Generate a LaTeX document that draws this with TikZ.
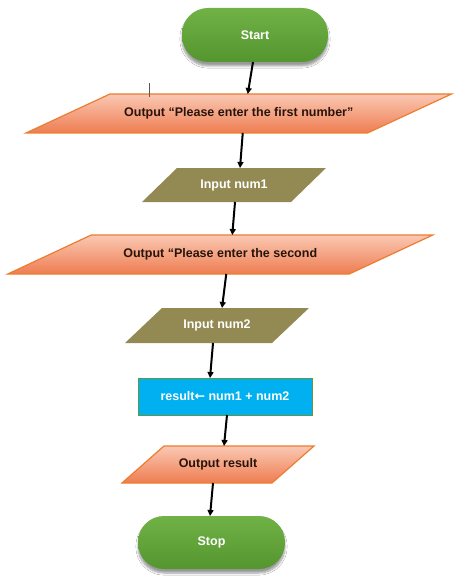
\documentclass[tikz,border=0pt]{standalone}
\usepackage{fontspec}
\setmainfont{Liberation Sans}
\newfontfamily\symfont{DejaVu Sans}
\usetikzlibrary{arrows.meta,shadows.blur}
\definecolor{grnA}{RGB}{112,178,70}
\definecolor{grnB}{RGB}{84,150,46}
\definecolor{orTop}{RGB}{250,200,180}
\definecolor{orBot}{RGB}{238,125,80}
\definecolor{orLine}{RGB}{237,125,49}
\definecolor{olive}{RGB}{147,137,83}
\definecolor{cyanbox}{RGB}{0,176,240}
\definecolor{cyanline}{RGB}{100,150,60}
\definecolor{darktxt}{RGB}{40,20,10}
\tikzset{
  x=1pt,y=-1pt,
  txt/.style={font=\fontsize{12.5}{14}\selectfont\bfseries, inner sep=0pt, outer sep=0pt},
  term/.style={txt, text=white, rounded corners=26pt, top color=grnA, bottom color=grnB, draw=none,
     blur shadow={shadow xshift=0pt, shadow yshift=-4pt, shadow blur steps=6, shadow opacity=40}},
  pbox/.style={txt, minimum width=#1},
  outfill/.style={top color=orTop, bottom color=orBot, draw=orLine, line width=1.2pt},
  infill/.style={fill=olive},
  procbox/.style={txt, text=white, fill=cyanbox, draw=cyanline, line width=0.8pt},
  flow/.style={line width=2pt, -{Triangle[length=6pt,width=6pt]}},
}
% parallelogram: centre (#1,#2), edge length #3, height #4, skew #5, style #6
\newcommand{\parashape}[6]{%
  \path[#6] ({#1-#3/2+#5/2},{#2-#4/2}) -- ({#1+#3/2+#5/2},{#2-#4/2})
     -- ({#1+#3/2-#5/2},{#2+#4/2}) -- ({#1-#3/2-#5/2},{#2+#4/2}) -- cycle;}
\begin{document}
\begin{tikzpicture}
\useasboundingbox (0,0) rectangle (474,580);
\fill[white] (0,0) rectangle (474,580);

\parashape{238.75}{113.5}{341.5}{39}{84}{outfill}
\parashape{234}{185}{149}{34}{35}{infill}
\parashape{220.25}{254.5}{341.5}{39}{83.5}{outfill}
\parashape{217}{325.5}{147}{35}{37}{infill}
\parashape{218}{464.5}{150}{37}{42}{outfill}

\node[term, minimum width=146pt, minimum height=54pt] (start) at (255,35) {Start};
\node[pbox=341.5pt, minimum height=39pt, text=darktxt] (p1) at (238.75,113.5) {Output “Please enter the first number”};
\node[pbox=149pt, minimum height=34pt, text=white] (in1) at (234,185) {Input num1};
\node[pbox=341.5pt, minimum height=39pt, text=darktxt] (p2) at (220.25,254.5) {Output “Please enter the second};
\node[pbox=147pt, minimum height=35pt, text=white] (in2) at (217,325.5) {Input num2};
\node[procbox, minimum width=174pt, minimum height=37pt] (calc) at (225,396.5) {result{\symfont ←} num1 + num2};
\node[pbox=150pt, minimum height=37pt, text=darktxt] (out) at (218,464.5) {Output result};
\node[term, minimum width=147pt, minimum height=53pt] (stop) at (211.5,542.5) {Stop};

% text cursor mark
\coordinate (cur1) at (149,83);
\coordinate (cur2) at (149,97);
\draw[gray!70!black, line width=0.6pt] (cur1) -- (cur2);

\draw[flow] ([xshift=-2pt]start.south) -- ([xshift=9pt]p1.north);
\draw[flow] ([xshift=4pt]p1.south) -- ([xshift=6pt]in1.north);
\draw[flow] ([xshift=1pt]in1.south) -- ([xshift=12pt]p2.north);
\draw[flow] ([xshift=6pt]p2.south) -- ([xshift=5pt]in2.north);
\draw[flow] ([xshift=-4pt]in2.south) -- ([xshift=-15pt]calc.north);
\draw[flow] ([xshift=2pt]calc.south) -- ([xshift=6pt]out.north);
\draw[flow] ([xshift=-5pt]out.south) -- ([xshift=-1.5pt]stop.north);
\end{tikzpicture}
\end{document}
